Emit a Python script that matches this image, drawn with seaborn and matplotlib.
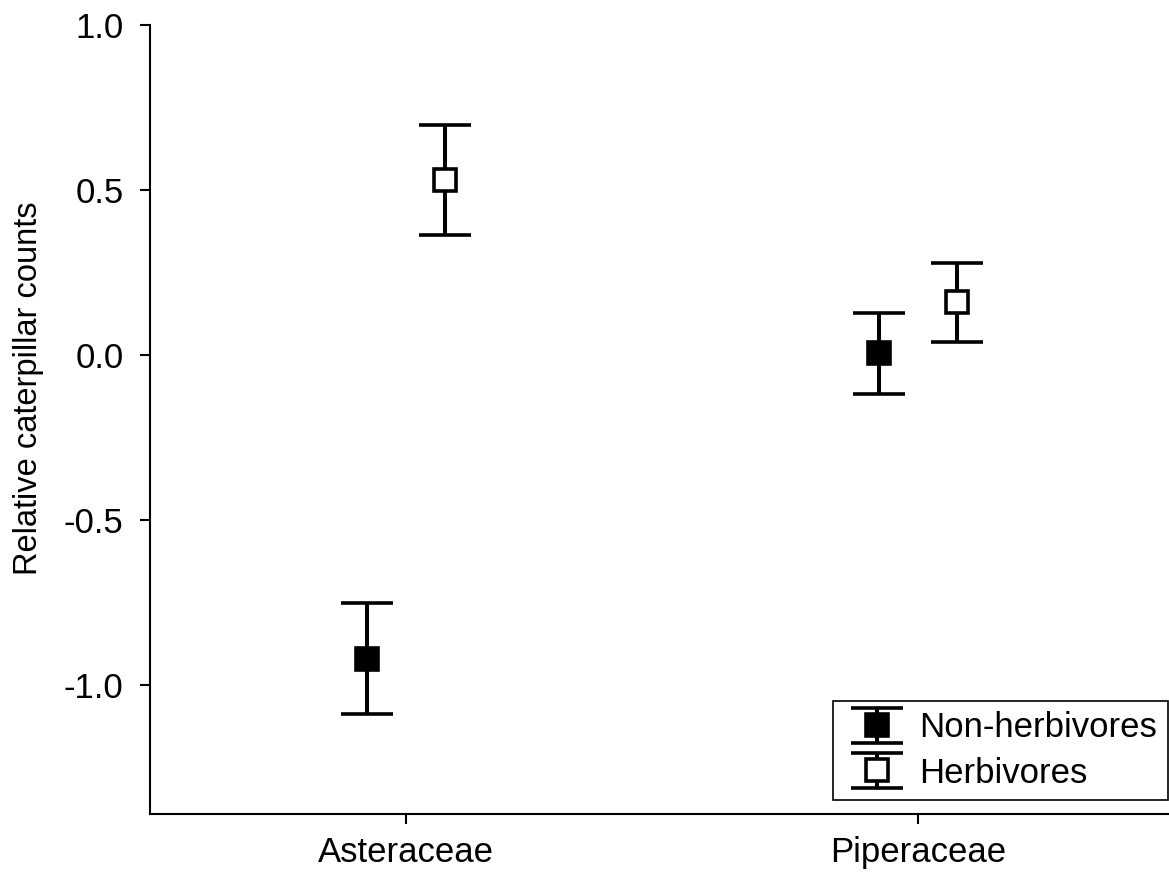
import numpy as np
import pandas as pd
import seaborn as sns
import matplotlib
matplotlib.use("Agg")
import matplotlib.pyplot as plt

# ---- data ----
families = ["Asteraceae", "Piperaceae"]
groups = ["Non-herbivores", "Herbivores"]
nonherb_mean = [-0.92, 0.005]
nonherb_err = [0.168, 0.122]
herb_mean = [0.53, 0.16]
herb_err = [0.167, 0.12]
yticks = [-1.0, -0.5, 0.0, 0.5, 1.0]

sns.set_style("ticks")
plt.rcParams['font.family'] = ['Liberation Sans', 'DejaVu Sans']
plt.rcParams['text.color'] = 'black'

fig = plt.figure(figsize=(11.69, 8.74), dpi=100)
ax = fig.add_axes([150/1169, 1-814/874, 1-150/1169, (814-25)/874])

x = np.arange(len(families))
dodge = 0.076

styles = {
    "Non-herbivores": dict(mfc="black", offset=-dodge, mean=nonherb_mean, err=nonherb_err),
    "Herbivores": dict(mfc="white", offset=dodge, mean=herb_mean, err=herb_err),
}
handles = []
for g in groups:
    s = styles[g]
    h = ax.errorbar(x + s["offset"], s["mean"], yerr=s["err"], fmt="s", color="black",
                    ecolor="black", elinewidth=2.9, capsize=19, capthick=2.9,
                    markersize=16, markerfacecolor=s["mfc"], markeredgecolor="black",
                    markeredgewidth=2.6, label=g, zorder=3)
    handles.append(h)

ax.set_xlim(-0.5, 1.49)
ax.set_ylim(-1.39, 1.0)
ax.set_xticks(x)
ax.set_xticklabels(families)
ax.set_yticks(yticks)
ax.set_yticklabels([f"{v:.1f}" for v in yticks])

for side in ["left", "bottom"]:
    ax.spines[side].set_linewidth(1.5)
    ax.spines[side].set_color("black")
for side in ["top", "right"]:
    ax.spines[side].set_visible(False)

ax.tick_params(axis="both", direction="out", length=7, width=1.5, color="black",
               labelsize=25, labelcolor="black")
ax.tick_params(axis="y", pad=12)
ax.tick_params(axis="x", pad=9)

ax.set_ylabel("Relative caterpillar counts", fontsize=23.5, color="black")
ax.yaxis.set_label_coords(-0.104, 0.54)

leg = ax.legend(handles=handles, labels=groups, loc="lower right",
                bbox_to_anchor=(0.999, 74/874), bbox_transform=fig.transFigure,
                fontsize=25, frameon=True, fancybox=False, framealpha=1,
                edgecolor="black", borderpad=0.3, handlelength=1.9,
                handletextpad=0.28, labelspacing=0.35, borderaxespad=0)
leg.get_frame().set_linewidth(1.2)
for t in leg.get_texts():
    t.set_color("black")

fig.savefig("out.png", dpi=100, facecolor="white")
